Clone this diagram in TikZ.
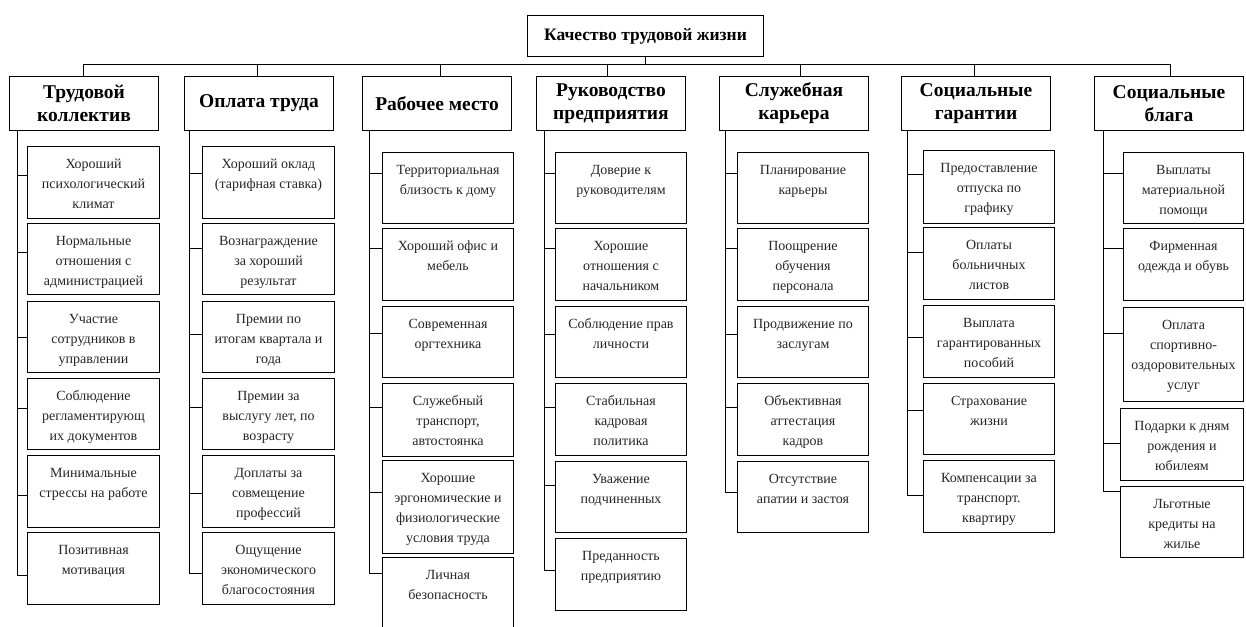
\documentclass[tikz,border=0pt]{standalone}
\usepackage{fontspec}
\setmainfont{Liberation Serif}
\tikzset{
  box/.style={draw, line width=1pt, inner sep=0pt, anchor=north west},
  itemfont/.style={font=\fontsize{14}{20}\selectfont, text=black!85},
  titlefont/.style={font=\fontsize{17.5}{22}\selectfont\bfseries, align=center},
  catfont/.style={font=\fontsize{19.5}{23}\selectfont\bfseries, align=center},
  link/.style={line width=1pt}
}
% item: name, x, y, w, h, tick y, spine coord, text
\newcommand\itm[8]{%
  \node[box, itemfont] (#1) at (#2,#3)
    {\parbox[c][#5pt][t]{#4pt}{\centering\rule{0pt}{22pt}#8\par}};
  \draw[link] (#7 |- 0,#6) -- (#1.west |- 0,#6);
}
% category: name, x, text
\newcommand\catbox[3]{%
  \node[box, catfont, minimum width=149, minimum height=54] (#1) at (#2,76) {#3};
}
\begin{document}
\begin{tikzpicture}[x=1pt, y=-1pt]
\path[use as bounding box, clip] (0,0) rectangle (1246,626);
\fill[white] (0,0) rectangle (1246,626);

% title
\node[box, titlefont, minimum width=236, minimum height=41] (top) at (527,15) {Качество трудовой жизни};

% categories
\catbox{c1}{9}{Трудовой\\коллектив}
\catbox{c2}{184}{Оплата труда}
\catbox{c3}{362}{Рабочее место}
\catbox{c4}{536}{Руководство\\предприятия}
\catbox{c5}{719}{Служебная\\карьера}
\catbox{c6}{901}{Социальные\\гарантии}
\catbox{c7}{1094}{Социальные\\блага}

% bus
\coordinate (d1) at (83,64);
\coordinate (d2) at (257,64);
\coordinate (d3) at (440,64);
\coordinate (d4) at (607,64);
\coordinate (d5) at (800,64);
\coordinate (d6) at (974,64);
\coordinate (d7) at (1170,64);
\draw[link] (top.south) -- (top.south |- d1);
\draw[link] (d1) -- (d7);
\foreach \k in {1,...,7} { \draw[link] (d\k) -- (c\k.north -| d\k); }

% spines
\coordinate (s1) at (c1.south -| 17,0);   \coordinate (e1) at (17,575);
\coordinate (s2) at (c2.south -| 189,0);  \coordinate (e2) at (189,573);
\coordinate (s3) at (c3.south -| 369,0);  \coordinate (e3) at (369,573);
\coordinate (s4) at (c4.south -| 544,0);  \coordinate (e4) at (544,570);
\coordinate (s5) at (c5.south -| 725,0);  \coordinate (e5) at (725,492);
\coordinate (s6) at (c6.south -| 907,0);  \coordinate (e6) at (907,495);
\coordinate (s7) at (c7.south -| 1103,0); \coordinate (e7) at (1103,491);
\foreach \k in {1,...,7} { \draw[link] (s\k) -- (e\k); }

% column 1
\itm{b11}{27}{146}{132}{72}{175}{s1}{Хороший\\психологический\\климат}
\itm{b12}{27}{223}{132}{71}{252}{s1}{Нормальные\\отношения с\\администрацией}
\itm{b13}{27}{301}{132}{71}{337}{s1}{Участие\\сотрудников в\\управлении}
\itm{b14}{27}{378}{132}{71}{408}{s1}{Соблюдение\\регламентирующ\\их документов}
\itm{b15}{27}{455}{132}{72}{495}{s1}{Минимальные\\стрессы на работе}
\itm{b16}{27}{532}{132}{72}{575}{s1}{Позитивная\\мотивация}

% column 2
\itm{b21}{202}{146}{132}{72}{173}{s2}{Хороший оклад\\(тарифная ставка)}
\itm{b22}{202}{223}{132}{71}{248}{s2}{Вознаграждение\\за хороший\\результат}
\itm{b23}{202}{301}{132}{71}{334}{s2}{Премии по\\итогам квартала и\\года}
\itm{b24}{202}{378}{132}{71}{407}{s2}{Премии за\\выслугу лет, по\\возрасту}
\itm{b25}{202}{455}{132}{72}{493}{s2}{Доплаты за\\совмещение\\профессий}
\itm{b26}{202}{532}{132}{72}{573}{s2}{Ощущение\\экономического\\благосостояния}

% column 3
\itm{b31}{382}{152}{131}{71}{173}{s3}{Территориальная\\близость к дому}
\itm{b32}{382}{228}{131}{72}{248}{s3}{Хороший офис и\\мебель}
\itm{b33}{382}{306}{131}{71}{333}{s3}{Современная\\оргтехника}
\itm{b34}{382}{383}{131}{73}{407}{s3}{Служебный\\транспорт,\\автостоянка}
\itm{b35}{382}{460}{131}{93}{492}{s3}{Хорошие\\эргономические и\\физиологические\\условия труда}
\itm{b36}{382}{557}{131}{80}{573}{s3}{Личная\\безопасность}

% column 4
\itm{b41}{555}{152}{131}{71}{173}{s4}{Доверие к\\руководителям}
\itm{b42}{555}{228}{131}{72}{248}{s4}{Хорошие\\отношения с\\начальником}
\itm{b43}{555}{306}{131}{71}{334}{s4}{Соблюдение прав\\личности}
\itm{b44}{555}{383}{131}{72}{407}{s4}{Стабильная\\кадровая\\политика}
\itm{b45}{555}{461}{131}{71}{485}{s4}{Уважение\\подчиненных}
\itm{b46}{555}{538}{131}{72}{570}{s4}{Преданность\\предприятию}

% column 5
\itm{b51}{737}{152}{131}{71}{173}{s5}{Планирование\\карьеры}
\itm{b52}{737}{228}{131}{72}{248}{s5}{Поощрение\\обучения\\персонала}
\itm{b53}{737}{306}{131}{71}{334}{s5}{Продвижение по\\заслугам}
\itm{b54}{737}{383}{131}{72}{407}{s5}{Объективная\\аттестация\\кадров}
\itm{b55}{737}{461}{131}{71}{492}{s5}{Отсутствие\\апатии и застоя}

% column 6
\itm{b61}{923}{150}{131}{73}{174}{s6}{Предоставление\\отпуска по\\графику}
\itm{b62}{923}{227}{131}{72}{252}{s6}{Оплаты\\больничных\\листов}
\itm{b63}{923}{305}{131}{72}{337}{s6}{Выплата\\гарантированных\\пособий}
\itm{b64}{923}{383}{131}{71}{410}{s6}{Страхование\\жизни}
\itm{b65}{923}{460}{131}{72}{495}{s6}{Компенсации за\\транспорт.\\квартиру}

% column 7
\itm{b71}{1123}{152}{120}{71}{173}{s7}{Выплаты\\материальной\\помощи}
\itm{b72}{1123}{228}{120}{72}{248}{s7}{Фирменная\\одежда и обувь}
\itm{b73}{1123}{307}{120}{94}{333}{s7}{Оплата\\спортивно-\\оздоровительных\\услуг}
\itm{b74}{1120}{408}{123}{72}{443}{s7}{Подарки к дням\\рождения и\\юбилеям}
\itm{b75}{1120}{486}{123}{71}{491}{s7}{Льготные\\кредиты на\\жилье}
\end{tikzpicture}
\end{document}
